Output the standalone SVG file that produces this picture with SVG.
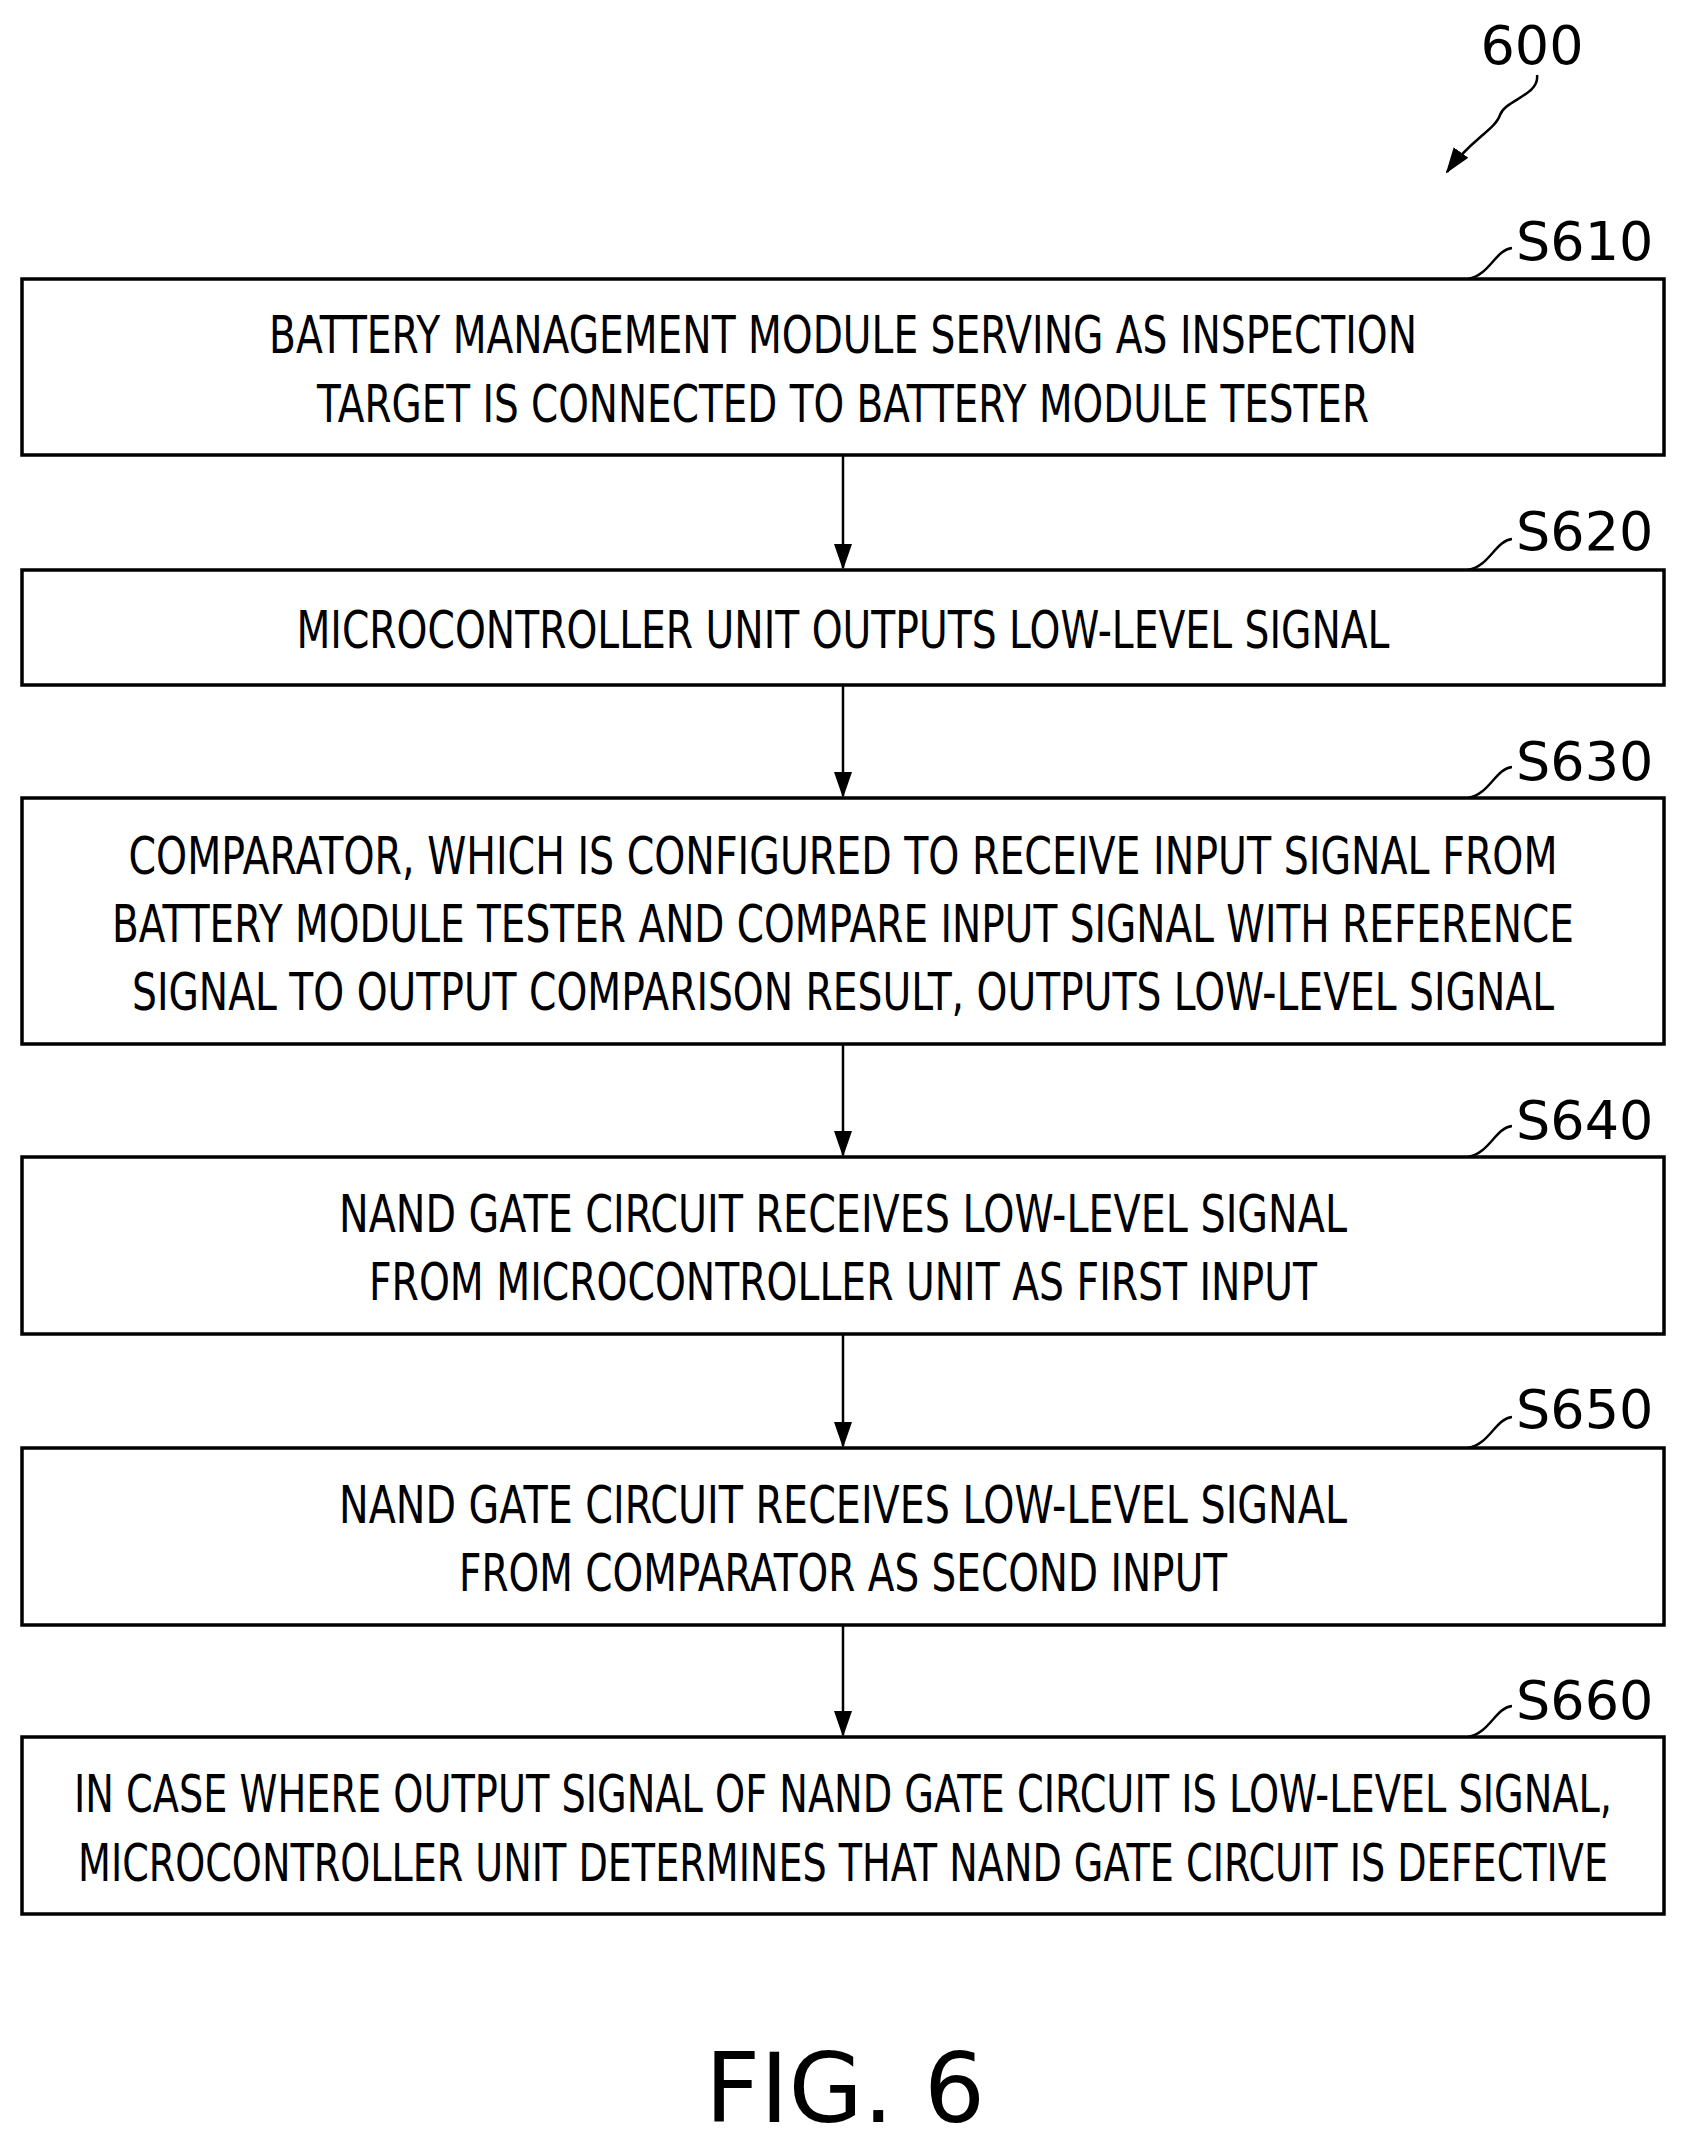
<svg xmlns="http://www.w3.org/2000/svg" width="1694" height="2152" viewBox="0 0 1694 2152">
<style>
.b{fill:#fff;stroke:#000;stroke-width:3.5}
.t{font-family:"DejaVu Sans",sans-serif;font-size:52px;text-anchor:middle;fill:#000}
.l{font-family:"DejaVu Sans",sans-serif;font-size:54px;fill:#000}
.c{fill:none;stroke:#000;stroke-width:2.5}
</style>
<defs>
<marker id="a2" markerWidth="26" markerHeight="22" refX="24" refY="11" orient="auto" markerUnits="userSpaceOnUse"><path d="M0,2 L26,11 L0,20 z" fill="#000"/></marker></defs>
<rect width="1694" height="2152" fill="#fff"/>
<text class="l" x="1532" y="64" text-anchor="middle">600</text>
<g id="connectors">
<path class="c" d="M1537,75 C1540,95 1505,100 1500,115 C1495,130 1470,140 1447,172" marker-end="url(#a2)"/>
<line class="c" x1="843" y1="455" x2="843" y2="568" marker-end="url(#a2)"/>
<line class="c" x1="843" y1="685" x2="843" y2="796" marker-end="url(#a2)"/>
<line class="c" x1="843" y1="1044" x2="843" y2="1155" marker-end="url(#a2)"/>
<line class="c" x1="843" y1="1334" x2="843" y2="1446" marker-end="url(#a2)"/>
<line class="c" x1="843" y1="1625" x2="843" y2="1735" marker-end="url(#a2)"/>
<path class="c" d="M1468,279 C1490,275 1495,250 1512,248"/>
<path class="c" d="M1468,570 C1490,566 1495,541 1512,539"/>
<path class="c" d="M1468,798 C1490,794 1495,769 1512,767"/>
<path class="c" d="M1468,1157 C1490,1153 1495,1128 1512,1126"/>
<path class="c" d="M1468,1448 C1490,1444 1495,1419 1512,1417"/>
<path class="c" d="M1468,1737 C1490,1733 1495,1708 1512,1706"/>
</g>
<g id="S610"><rect class="b" x="22" y="279" width="1642" height="176"/>
<text class="t" x="843" y="353" textLength="1148" lengthAdjust="spacingAndGlyphs">BATTERY MANAGEMENT MODULE SERVING AS INSPECTION</text>
<text class="t" x="843" y="422" textLength="1052" lengthAdjust="spacingAndGlyphs">TARGET IS CONNECTED TO BATTERY MODULE TESTER</text>
<text class="l" x="1516" y="260">S610</text></g>
<g id="S620"><rect class="b" x="22" y="570" width="1642" height="115"/>
<text class="t" x="843" y="648" textLength="1093" lengthAdjust="spacingAndGlyphs">MICROCONTROLLER UNIT OUTPUTS LOW-LEVEL SIGNAL</text>
<text class="l" x="1516" y="550">S620</text></g>
<g id="S630"><rect class="b" x="22" y="798" width="1642" height="246"/>
<text class="t" x="843" y="874" textLength="1429" lengthAdjust="spacingAndGlyphs">COMPARATOR, WHICH IS CONFIGURED TO RECEIVE INPUT SIGNAL FROM</text>
<text class="t" x="843" y="942" textLength="1462" lengthAdjust="spacingAndGlyphs">BATTERY MODULE TESTER AND COMPARE INPUT SIGNAL WITH REFERENCE</text>
<text class="t" x="843" y="1010" textLength="1422" lengthAdjust="spacingAndGlyphs">SIGNAL TO OUTPUT COMPARISON RESULT, OUTPUTS LOW-LEVEL SIGNAL</text>
<text class="l" x="1516" y="780">S630</text></g>
<g id="S640"><rect class="b" x="22" y="1157" width="1642" height="177"/>
<text class="t" x="843" y="1232" textLength="1008" lengthAdjust="spacingAndGlyphs">NAND GATE CIRCUIT RECEIVES LOW-LEVEL SIGNAL</text>
<text class="t" x="843" y="1300" textLength="948" lengthAdjust="spacingAndGlyphs">FROM MICROCONTROLLER UNIT AS FIRST INPUT</text>
<text class="l" x="1516" y="1139">S640</text></g>
<g id="S650"><rect class="b" x="22" y="1448" width="1642" height="177"/>
<text class="t" x="843" y="1523" textLength="1008" lengthAdjust="spacingAndGlyphs">NAND GATE CIRCUIT RECEIVES LOW-LEVEL SIGNAL</text>
<text class="t" x="843" y="1591" textLength="768" lengthAdjust="spacingAndGlyphs">FROM COMPARATOR AS SECOND INPUT</text>
<text class="l" x="1516" y="1428">S650</text></g>
<g id="S660"><rect class="b" x="22" y="1737" width="1642" height="177"/>
<text class="t" x="843" y="1812" textLength="1538" lengthAdjust="spacingAndGlyphs">IN CASE WHERE OUTPUT SIGNAL OF NAND GATE CIRCUIT IS LOW-LEVEL SIGNAL,</text>
<text class="t" x="843" y="1881" textLength="1530" lengthAdjust="spacingAndGlyphs">MICROCONTROLLER UNIT DETERMINES THAT NAND GATE CIRCUIT IS DEFECTIVE</text>
<text class="l" x="1516" y="1719">S660</text></g>
<text x="845" y="2122" font-family="DejaVu Sans, sans-serif" font-size="96" text-anchor="middle">FIG. 6</text>
</svg>
